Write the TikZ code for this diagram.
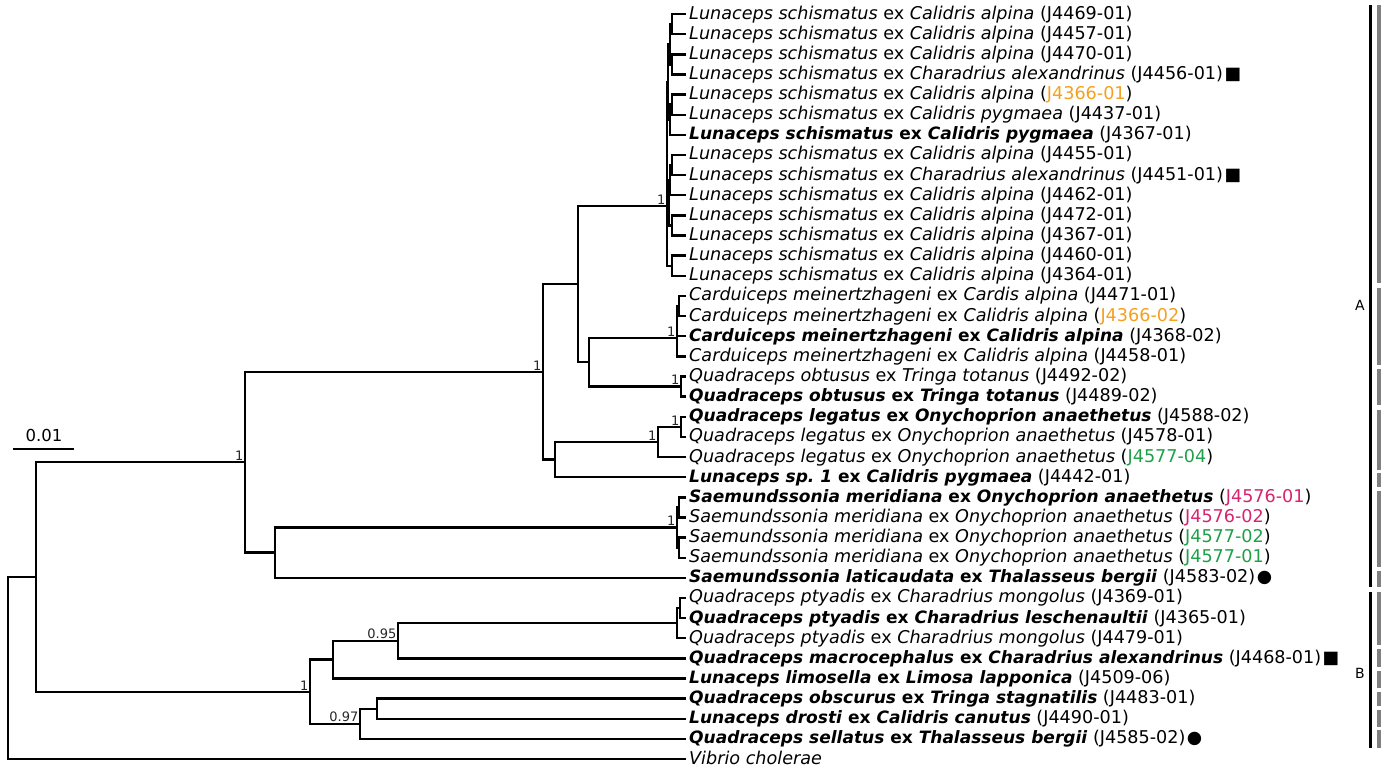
\documentclass[tikz,border=0pt]{standalone}
\usepackage{fontspec}
\setmainfont{DejaVu Sans}[BoldFeatures={Scale=0.967},BoldItalicFeatures={Scale=0.967}]
\usetikzlibrary{calc}
\definecolor{acOrange}{RGB}{245,160,30}
\definecolor{acPink}{RGB}{214,36,110}
\definecolor{acGreen}{RGB}{30,160,72}
\definecolor{barGray}{RGB}{128,128,128}
\newcommand\lfN[3]{\textit{#1} ex \textit{#2} (#3)}
\newcommand\lfB[3]{\textbf{\textit{#1} ex \textit{#2}} (#3)}
\newcommand\cO[1]{\textcolor{acOrange}{#1}}
\newcommand\cP[1]{\textcolor{acPink}{#1}}
\newcommand\cG[1]{\textcolor{acGreen}{#1}}
\newcommand\mkS{\kern1.5pt■}
\newcommand\mkC{\kern1.5pt●}
\begin{document}
\begin{tikzpicture}[x=1pt,y=-1pt,
  br/.style={line width=2.4pt, line join=miter},
  leaf/.style={anchor=west, inner sep=0pt, inner xsep=3pt, text height=13pt, text depth=3pt,
    font=\fontsize{17.6}{20}\selectfont},
  support/.style={anchor=south east, inner sep=1.5pt, text=black!85,
    font=\fontsize{13}{14}\selectfont},
  clabel/.style={inner sep=0pt, font=\fontsize{14}{16}\selectfont},
  barK/.style={line width=3pt, black},
  barG/.style={line width=4pt, barGray}]
\useasboundingbox (0,0) rectangle (1385,769);

% ---------- leaves ----------
\node[leaf] (l1)  at (686,14)    {\lfN{Lunaceps schismatus}{Calidris alpina}{J4469-01}};
\node[leaf] (l2)  at (686,34.1)  {\lfN{Lunaceps schismatus}{Calidris alpina}{J4457-01}};
\node[leaf] (l3)  at (686,54.3)  {\lfN{Lunaceps schismatus}{Calidris alpina}{J4470-01}};
\node[leaf] (l4)  at (686,74.4)  {\lfN{Lunaceps schismatus}{Charadrius alexandrinus}{J4456-01}\mkS};
\node[leaf] (l5)  at (686,94.5)  {\lfN{Lunaceps schismatus}{Calidris alpina}{\cO{J4366-01}}};
\node[leaf] (l6)  at (686,114.7) {\lfN{Lunaceps schismatus}{Calidris pygmaea}{J4437-01}};
\node[leaf] (l7)  at (686,134.8) {\lfB{Lunaceps schismatus}{Calidris pygmaea}{J4367-01}};
\node[leaf] (l8)  at (686,154.9) {\lfN{Lunaceps schismatus}{Calidris alpina}{J4455-01}};
\node[leaf] (l9)  at (686,175.1) {\lfN{Lunaceps schismatus}{Charadrius alexandrinus}{J4451-01}\mkS};
\node[leaf] (l10) at (686,195.2) {\lfN{Lunaceps schismatus}{Calidris alpina}{J4462-01}};
\node[leaf] (l11) at (686,215.4) {\lfN{Lunaceps schismatus}{Calidris alpina}{J4472-01}};
\node[leaf] (l12) at (686,235.5) {\lfN{Lunaceps schismatus}{Calidris alpina}{J4367-01}};
\node[leaf] (l13) at (686,255.6) {\lfN{Lunaceps schismatus}{Calidris alpina}{J4460-01}};
\node[leaf] (l14) at (686,275.8) {\lfN{Lunaceps schismatus}{Calidris alpina}{J4364-01}};
\node[leaf] (l15) at (686,295.9) {\lfN{Carduiceps meinertzhageni}{Cardis alpina}{J4471-01}};
\node[leaf] (l16) at (686,316.0) {\lfN{Carduiceps meinertzhageni}{Calidris alpina}{\cO{J4366-02}}};
\node[leaf] (l17) at (686,336.2) {\lfB{Carduiceps meinertzhageni}{Calidris alpina}{J4368-02}};
\node[leaf] (l18) at (686,356.3) {\lfN{Carduiceps meinertzhageni}{Calidris alpina}{J4458-01}};
\node[leaf] (l19) at (686,376.4) {\lfN{Quadraceps obtusus}{Tringa totanus}{J4492-02}};
\node[leaf] (l20) at (686,396.6) {\lfB{Quadraceps obtusus}{Tringa totanus}{J4489-02}};
\node[leaf] (l21) at (686,416.7) {\lfB{Quadraceps legatus}{Onychoprion anaethetus}{J4588-02}};
\node[leaf] (l22) at (686,436.9) {\lfN{Quadraceps legatus}{Onychoprion anaethetus}{J4578-01}};
\node[leaf] (l23) at (686,457.0) {\lfN{Quadraceps legatus}{Onychoprion anaethetus}{\cG{J4577-04}}};
\node[leaf] (l24) at (686,477.1) {\lfB{Lunaceps sp.~1}{Calidris pygmaea}{J4442-01}};
\node[leaf] (l25) at (686,497.3) {\lfB{Saemundssonia meridiana}{Onychoprion anaethetus}{\cP{J4576-01}}};
\node[leaf] (l26) at (686,517.4) {\lfN{Saemundssonia meridiana}{Onychoprion anaethetus}{\cP{J4576-02}}};
\node[leaf] (l27) at (686,537.5) {\lfN{Saemundssonia meridiana}{Onychoprion anaethetus}{\cG{J4577-02}}};
\node[leaf] (l28) at (686,557.7) {\lfN{Saemundssonia meridiana}{Onychoprion anaethetus}{\cG{J4577-01}}};
\node[leaf] (l29) at (686,577.8) {\lfB{Saemundssonia laticaudata}{Thalasseus bergii}{J4583-02}\mkC};
\node[leaf] (l30) at (686,597.9) {\lfN{Quadraceps ptyadis}{Charadrius mongolus}{J4369-01}};
\node[leaf] (l31) at (686,618.1) {\lfB{Quadraceps ptyadis}{Charadrius leschenaultii}{J4365-01}};
\node[leaf] (l32) at (686,638.2) {\lfN{Quadraceps ptyadis}{Charadrius mongolus}{J4479-01}};
\node[leaf] (l33) at (686,658.4) {\lfB{Quadraceps macrocephalus}{Charadrius alexandrinus}{J4468-01}\mkS};
\node[leaf] (l34) at (686,678.5) {\lfB{Lunaceps limosella}{Limosa lapponica}{J4509-06}};
\node[leaf] (l35) at (686,698.6) {\lfB{Quadraceps obscurus}{Tringa stagnatilis}{J4483-01}};
\node[leaf] (l36) at (686,718.8) {\lfB{Lunaceps drosti}{Calidris canutus}{J4490-01}};
\node[leaf] (l37) at (686,738.9) {\lfB{Quadraceps sellatus}{Thalasseus bergii}{J4585-02}\mkC};
\node[leaf] (l38) at (686,759.0) {\textit{Vibrio cholerae}};

% ---------- internal nodes ----------
\coordinate (root)  at (8,668);
\coordinate (ing)   at (36,577);
\coordinate (A)     at (245,462.2);
\coordinate (A1)    at (543,371.8);
\coordinate (aLC)   at (578,284.1);
\coordinate (aL)    at (667,206);
\coordinate (aTop)  at (668,81.95);
\coordinate (a1234) at (670,44.2);
\coordinate (a12)   at (672,24.05);
\coordinate (a34)   at (672,64.35);
\coordinate (a567)  at (670,119.7);
\coordinate (a56)   at (672,104.6);
\coordinate (aMid)  at (669,202.8);
\coordinate (a8910) at (670,180.1);
\coordinate (a89)   at (672,165);
\coordinate (a1112) at (672,225.45);
\coordinate (a1314) at (672,265.7);
\coordinate (cCO)   at (589,362.25);
\coordinate (cC)    at (677,338);
\coordinate (c1516) at (679,305.95);
\coordinate (o)     at (681,386.5);
\coordinate (gL)    at (555,459.5);
\coordinate (g)     at (658,441.9);
\coordinate (g12)   at (681,426.8);
\coordinate (mS)    at (275,552.65);
\coordinate (m)     at (677,527.5);
\coordinate (m12)   at (679,507.35);
\coordinate (m34)   at (679,547.6);
\coordinate (B)     at (310,691.7);
\coordinate (pml)   at (333,659.6);
\coordinate (pm)    at (398,640.75);
\coordinate (p)     at (677,623.1);
\coordinate (p12)   at (680,608);
\coordinate (q)     at (360,723.8);
\coordinate (q12)   at (377,708.7);

% ---------- branches ----------
\draw[br] (root) |- (ing);  \draw[br] (root) |- (l38.west);
\draw[br] (ing) |- (A);     \draw[br] (ing) |- (B);
\draw[br] (A) |- (A1);      \draw[br] (A) |- (mS);
\draw[br] (A1) |- (aLC);    \draw[br] (A1) |- (gL);
\draw[br] (aLC) |- (aL);    \draw[br] (aLC) |- (cCO);
\draw[br] (aL) |- (aTop);   \draw[br] (aL) |- (aMid);  \draw[br] (aL) |- (a1314);
\draw[br] (aTop) |- (a1234); \draw[br] (aTop) |- (a567);
\draw[br] (a1234) |- (a12); \draw[br] (a1234) |- (a34);
\draw[br] (a12) |- (l1.west);  \draw[br] (a12) |- (l2.west);
\draw[br] (a34) |- (l3.west);  \draw[br] (a34) |- (l4.west);
\draw[br] (a567) |- (a56);     \draw[br] (a567) |- (l7.west);
\draw[br] (a56) |- (l5.west);  \draw[br] (a56) |- (l6.west);
\draw[br] (aMid) |- (a8910);   \draw[br] (aMid) |- (a1112);
\draw[br] (a8910) |- (a89);    \draw[br] (a8910) |- (l10.west);
\draw[br] (a89) |- (l8.west);  \draw[br] (a89) |- (l9.west);
\draw[br] (a1112) |- (l11.west); \draw[br] (a1112) |- (l12.west);
\draw[br] (a1314) |- (l13.west); \draw[br] (a1314) |- (l14.west);
\draw[br] (cCO) |- (cC);       \draw[br] (cCO) |- (o);
\draw[br] (cC) |- (c1516);     \draw[br] (cC) |- (l17.west); \draw[br] (cC) |- (l18.west);
\draw[br] (c1516) |- (l15.west); \draw[br] (c1516) |- (l16.west);
\draw[br] (o) |- (l19.west);   \draw[br] (o) |- (l20.west);
\draw[br] (gL) |- (g);         \draw[br] (gL) |- (l24.west);
\draw[br] (g) |- (g12);        \draw[br] (g) |- (l23.west);
\draw[br] (g12) |- (l21.west); \draw[br] (g12) |- (l22.west);
\draw[br] (mS) |- (m);         \draw[br] (mS) |- (l29.west);
\draw[br] (m) |- (m12);        \draw[br] (m) |- (m34);
\draw[br] (m12) |- (l25.west); \draw[br] (m12) |- (l26.west);
\draw[br] (m34) |- (l27.west); \draw[br] (m34) |- (l28.west);
\draw[br] (B) |- (pml);        \draw[br] (B) |- (q);
\draw[br] (pml) |- (pm);       \draw[br] (pml) |- (l34.west);
\draw[br] (pm) |- (p);         \draw[br] (pm) |- (l33.west);
\draw[br] (p) |- (p12);        \draw[br] (p) |- (l32.west);
\draw[br] (p12) |- (l30.west); \draw[br] (p12) |- (l31.west);
\draw[br] (q) |- (q12);        \draw[br] (q) |- (l37.west);
\draw[br] (q12) |- (l35.west); \draw[br] (q12) |- (l36.west);

% ---------- support values ----------
\node[support] (sA)   at (A)   {1};
\node[support] (sA1)  at (A1)  {1};
\node[support] (saL)  at (aL)  {1};
\node[support] (scC)  at (cC)  {1};
\node[support] (so)   at (o)   {1};
\node[support] (sg12) at (g12) {1};
\node[support] (sg)   at (g)   {1};
\node[support] (sm)   at (m)   {1};
\node[support] (spm)  at (pm)  {0.95};
\node[support] (sB)   at (B)   {1};
\node[support] (sq)   at (q)   {0.97};

% ---------- scale bar ----------
\coordinate (sb1) at (13,449);
\coordinate (sb2) at (74,449);
\draw[br] (sb1) -- (sb2);
\node[font=\fontsize{16.5}{18}\selectfont, inner sep=0pt] (sbl) at (44,435) {0.01};

% ---------- group bars ----------
\draw[barK] (1370,5) -- (1370,587);
\draw[barK] (1370,592) -- (1370,748);
\foreach \a/\b in {5/283, 288/365, 369/405, 410/470, 473/487, 491/567, 571/587,
                   592/645, 649/667, 671/688, 692/706, 710/727, 730/748}
  \draw[barG] (1379,\a) -- (1379,\b);
\node[clabel] (labA) at (1360,305) {A};
\node[clabel] (labB) at (1360,673) {B};
\end{tikzpicture}
\end{document}
